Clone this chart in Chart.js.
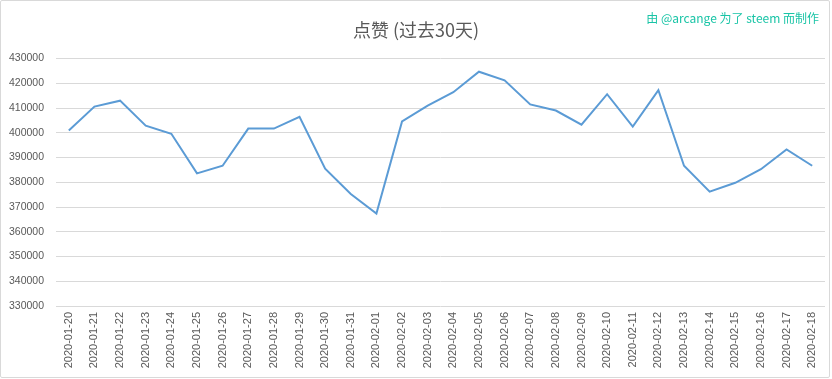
<!DOCTYPE html>
<html>
<head>
<meta charset="utf-8">
<script src="https://cdn.jsdelivr.net/npm/chart.js@4/dist/chart.umd.min.js"></script>
<style>
  html, body { margin: 0; padding: 0; background: #fff; }
  #wrap { position: relative; width: 832px; height: 379px; }
  #frame { position: absolute; left: 0; top: 0; width: 828px; height: 376px;
    border: 1px solid #d9d9d9; border-radius: 2px; pointer-events: none; }
  #credit { position: absolute; right: 13px; top: 9px; font: 12px "Noto Sans CJK SC", "DejaVu Sans", sans-serif;
    color: #19c4a6; white-space: nowrap; }
</style>
</head>
<body>
<div id="wrap">
  <canvas id="chart" width="832" height="379"></canvas>
  <div id="frame"></div>
  <div id="credit">由 @arcange 为了 steem 而制作</div>
</div>
<script>
const dates = [
  '2020-01-20', '2020-01-21', '2020-01-22', '2020-01-23', '2020-01-24', '2020-01-25',
  '2020-01-26', '2020-01-27', '2020-01-28', '2020-01-29', '2020-01-30', '2020-01-31',
  '2020-02-01', '2020-02-02', '2020-02-03', '2020-02-04', '2020-02-05', '2020-02-06',
  '2020-02-07', '2020-02-08', '2020-02-09', '2020-02-10', '2020-02-11', '2020-02-12',
  '2020-02-13', '2020-02-14', '2020-02-15', '2020-02-16', '2020-02-17', '2020-02-18'
];
const upvotes = [
  400900, 410600, 413000, 402900, 399600, 383600,
  386700, 401700, 401700, 406500, 385500, 375300,
  367400, 404600, 411000, 416400, 424700, 421200,
  411500, 409000, 403300, 415600, 402500, 417200,
  386700, 376200, 379800, 385300, 393300, 386700
];
const yMin = 330000, yMax = 430000, yStep = 10000;

const tickColor = '#595959';
const gridColor = '#d9d9d9';

new Chart(document.getElementById('chart'), {
  type: 'line',
  data: {
    labels: dates,
    datasets: [{
      data: upvotes,
      borderColor: '#5b9bd5',
      borderWidth: 2,
      pointRadius: 0,
      tension: 0,
      fill: false
    }]
  },
  options: {
    responsive: false,
    animation: false,
    layout: { padding: { left: 7, right: 7, top: 0, bottom: 0 } },
    plugins: {
      legend: { display: false },
      tooltip: { enabled: false },
      title: {
        display: true,
        text: '点赞 (过去30天)',
        color: tickColor,
        font: { family: '"Noto Sans CJK SC", sans-serif', size: 18, weight: 'normal', lineHeight: 1.2 },
        padding: { top: 19, bottom: 18 }
      }
    },
    scales: {
      x: {
        offset: true,
        grid: { display: false, drawTicks: false },
        border: { display: false },
        ticks: {
          color: tickColor, minRotation: 90, maxRotation: 90, autoSkip: false, padding: 6,
          font: { family: '"Liberation Sans", sans-serif', size: 11 }
        },
        afterFit: s => { s.height = 73; }
      },
      y: {
        min: yMin, max: yMax,
        grid: { color: gridColor, lineWidth: 1, drawTicks: false },
        border: { display: false },
        ticks: {
          stepSize: yStep, color: tickColor, padding: 12,
          font: { family: '"Liberation Sans", sans-serif', size: 10.5 },
          callback: v => String(v)
        },
        afterFit: s => { s.width = 49; }
      }
    }
  }
});
</script>
</body>
</html>
